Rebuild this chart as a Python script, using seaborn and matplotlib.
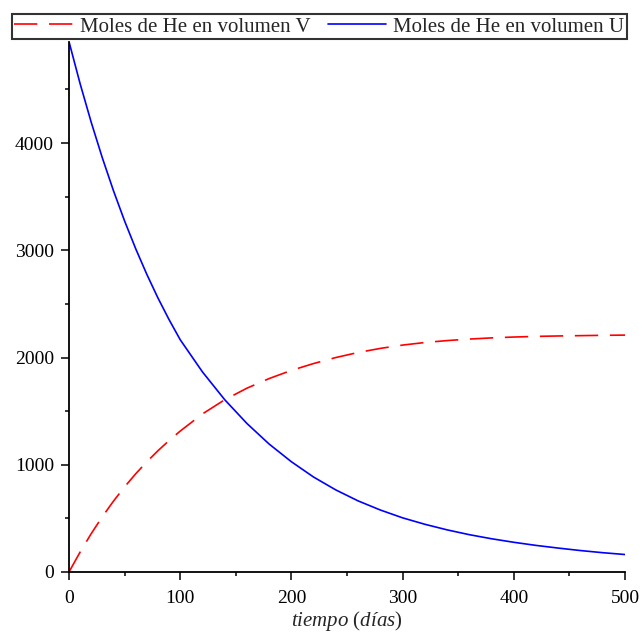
"""Moles de He en volúmenes V y U frente al tiempo (estilo Maple)."""

import matplotlib
matplotlib.use("Agg")
import matplotlib.pyplot as plt
from matplotlib.ticker import MultipleLocator
import seaborn as sns
import pandas as pd

# valores
tiempo = [0, 10, 20, 30, 40, 50, 60, 70, 80, 90, 100, 120, 140, 160, 180,
          200, 220, 240, 260, 280, 300, 320, 340, 360, 380, 400, 420, 440,
          460, 480, 500]
moles_v = [0, 186, 358, 516, 661, 794, 916, 1028, 1131, 1226, 1314, 1474,
           1606, 1714, 1804, 1880, 1944, 2000, 2047, 2085, 2116, 2140, 2158,
           2172, 2183, 2191, 2197, 2201, 2204, 2207, 2209]
moles_u = [4945, 4553, 4193, 3861, 3555, 3273, 3014, 2775, 2555, 2353, 2166,
           1866, 1607, 1385, 1193, 1028, 885, 765, 663, 578, 505, 445, 393,
           348, 310, 277, 248, 223, 200, 180, 163]

x_ticks = [0, 100, 200, 300, 400, 500]
y_ticks = [0, 1000, 2000, 3000, 4000]

label_v = "Moles de He en volumen V"
label_u = "Moles de He en volumen U"

sns.set_style("ticks")
plt.rcParams["font.family"] = ["Liberation Serif", "DejaVu Serif"]
plt.rcParams["mathtext.fontset"] = "custom"
plt.rcParams["mathtext.rm"] = "Liberation Serif"
plt.rcParams["mathtext.it"] = "Liberation Serif:italic"

df = pd.DataFrame({"t": tiempo, "V": moles_v, "U": moles_u})

fig = plt.figure(figsize=(6.42, 6.36), dpi=100)
ax = fig.add_axes([69 / 642, 1 - 572 / 636, 556 / 642, (572 - 41.7) / 636])

sns.lineplot(data=df, x="t", y="V", ax=ax, color="#ff0000", linewidth=1.2,
             label=label_v)
sns.lineplot(data=df, x="t", y="U", ax=ax, color="#0000ff", linewidth=1.2,
             label=label_u)
ax.lines[0].set_dashes((14, 7))

ax.set_xlim(0, 500)
ax.set_ylim(0, 4945)
ax.set_xticks(x_ticks)
ax.set_yticks(y_ticks)
ax.xaxis.set_minor_locator(MultipleLocator(50))
ax.yaxis.set_minor_locator(MultipleLocator(500))
ax.tick_params(which="major", length=5.8, width=1.1, labelsize=14,
               color="black", labelcolor="black")
ax.tick_params(axis="x", which="major", pad=7)
ax.tick_params(axis="y", which="major", pad=5)
ax.tick_params(which="minor", length=3, width=1.1, color="black")
sns.despine(ax=ax)
for side in ("left", "bottom"):
    ax.spines[side].set_linewidth(1.3)
    ax.spines[side].set_color("black")

ax.set_ylabel("")
ax.set_xlabel(r"$\mathit{tiempo}\ (\mathit{días})$", fontsize=15, labelpad=1.5)

ax.get_legend().remove()
handles, labels = ax.get_legend_handles_labels()
leg = fig.legend(handles, labels, ncol=2, loc="lower left", mode="expand",
                 bbox_to_anchor=(12 / 642, 1 - 39 / 636, 615 / 642, 34 / 636),
                 fontsize=15, frameon=True, fancybox=False, handlelength=2.8,
                 handletextpad=0.35, columnspacing=0.5, borderaxespad=0,
                 borderpad=0.12)
leg.get_frame().set_edgecolor("black")
leg.get_frame().set_linewidth(1.5)

fig.savefig("out.png", dpi=100)
